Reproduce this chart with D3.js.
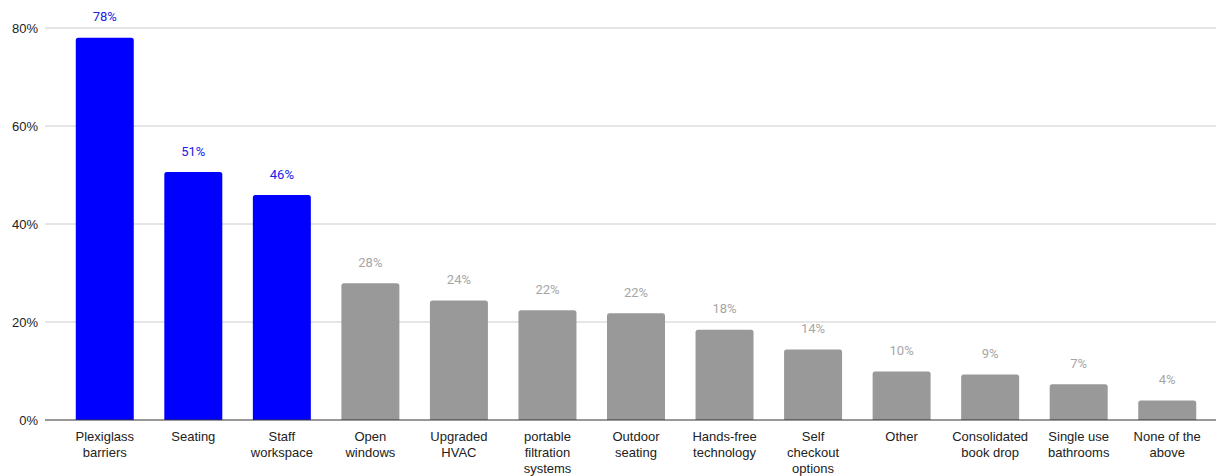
<!DOCTYPE html>
<html>
<head>
<meta charset="utf-8">
<script src="https://cdn.jsdelivr.net/npm/d3@7"></script>
<style>
  html, body { margin: 0; padding: 0; background: #fff; }
  svg { display: block; }
</style>
</head>
<body>
<svg id="chart" width="1217" height="476"></svg>
<script>
// Category names; "|" marks a line break in the axis label
const categories = [
  "Plexiglass|barriers", "Seating", "Staff|workspace", "Open|windows",
  "Upgraded|HVAC", "portable|filtration|systems", "Outdoor|seating",
  "Hands-free|technology", "Self|checkout|options", "Other",
  "Consolidated|book drop", "Single use|bathrooms", "None of the|above"
];
// Share of respondents (%)
const values = [78.0, 50.6, 45.9, 27.9, 24.4, 22.4, 21.8, 18.4, 14.4, 9.9, 9.3, 7.3, 4.0];
// Highlighted categories (drawn in blue)
const highlighted = [true, true, true, false, false, false, false, false, false, false, false, false, false];
const yTicks = [0, 20, 40, 60, 80];

const svg = d3.select("#chart");
const left = 45, right = 1216;

const x = d3.scaleBand()
  .domain(categories)
  .range([60.5, 1211.5])
  .paddingInner(0.345)
  .paddingOuter(0.1725);

const y = d3.scaleLinear().domain([0, 80]).range([420, 28]);

// Gridlines
svg.append("g")
  .selectAll("line")
  .data(yTicks.filter(d => d !== 0))
  .join("line")
  .attr("x1", left).attr("x2", right)
  .attr("y1", d => y(d)).attr("y2", d => y(d))
  .attr("stroke", "#cccccc").attr("stroke-width", 1);

// Y tick labels
svg.append("g")
  .selectAll("text")
  .data(yTicks)
  .join("text")
  .attr("x", 38)
  .attr("y", d => y(d))
  .attr("dy", "0.35em")
  .attr("text-anchor", "end")
  .attr("font-family", "'Liberation Sans', Arial, sans-serif")
  .attr("font-size", 13)
  .attr("fill", "#222")
  .text(d => d + "%");

// Bars with slightly rounded top corners
function barPath(x0, w, yTop, yBase, r) {
  r = Math.min(r, yBase - yTop);
  return `M${x0},${yBase}V${yTop + r}Q${x0},${yTop} ${x0 + r},${yTop}` +
         `H${x0 + w - r}Q${x0 + w},${yTop} ${x0 + w},${yTop + r}V${yBase}Z`;
}

svg.append("g")
  .selectAll("path")
  .data(values)
  .join("path")
  .attr("d", (d, i) => barPath(x(categories[i]), x.bandwidth(), y(d), y(0), 2.5))
  .attr("fill", (d, i) => highlighted[i] ? "#0000ff" : "#999999");

// Baseline
svg.append("line")
  .attr("x1", left).attr("x2", right)
  .attr("y1", y(0)).attr("y2", y(0))
  .attr("stroke", "#333").attr("stroke-width", 1);

// Value labels
svg.append("g")
  .selectAll("text")
  .data(values)
  .join("text")
  .attr("x", (d, i) => x(categories[i]) + x.bandwidth() / 2)
  .attr("y", d => y(d) - 21)
  .attr("dy", "0.35em")
  .attr("text-anchor", "middle")
  .attr("font-family", "Roboto, Arial, sans-serif")
  .attr("font-size", 13)
  .attr("fill", (d, i) => highlighted[i] ? "#2020e8" : "#a6a6a6")
  .attr("stroke", "#ffffff")
  .attr("stroke-width", 2.5)
  .attr("paint-order", "stroke")
  .text(d => Math.round(d) + "%");

// Category labels
const catG = svg.append("g")
  .selectAll("text")
  .data(categories)
  .join("text")
  .attr("x", d => x(d) + x.bandwidth() / 2)
  .attr("y", 436)
  .attr("text-anchor", "middle")
  .attr("font-family", "'Liberation Sans', Arial, sans-serif")
  .attr("font-size", 13)
  .attr("fill", "#222");

catG.selectAll("tspan")
  .data(d => d.split("|"))
  .join("tspan")
  .attr("x", function () { return d3.select(this.parentNode).attr("x"); })
  .attr("dy", (d, i) => i === 0 ? "0.35em" : "16px")
  .text(d => d);
</script>
</body>
</html>
